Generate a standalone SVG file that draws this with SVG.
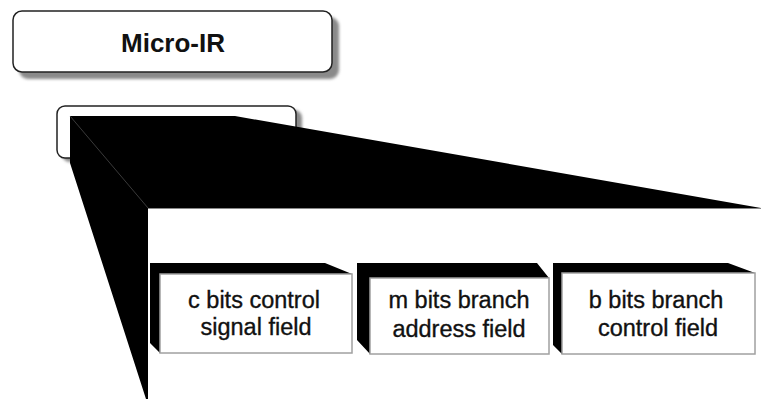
<svg xmlns="http://www.w3.org/2000/svg" width="761" height="399" viewBox="0 0 761 399">
<defs>
<filter id="blur" x="-10%" y="-10%" width="120%" height="130%"><feGaussianBlur stdDeviation="1.5"/></filter>
<style>
.box{fill:#fff;stroke:#222;stroke-width:1.5}
.shadow{fill:#8a8a8a;filter:url(#blur)}
.bevel{fill:#000}
.face{fill:#fff;stroke:#a0a0a0;stroke-width:1.5}
.lbl{font-family:"Liberation Sans",Arial,sans-serif;font-size:23.5px;fill:#111;stroke:#111;stroke-width:0.35;text-anchor:middle}
.title{font-family:"Liberation Sans",Arial,sans-serif;font-size:26px;font-weight:bold;fill:#111;text-anchor:middle}
</style>
</defs>
<rect width="761" height="399" fill="#fff"/>
<g id="micro-ir">
<rect class="shadow" x="19" y="17" width="320" height="62" rx="9"/>
<rect class="box" x="13" y="11" width="319" height="61" rx="9"/>
<text class="title" x="173" y="52">Micro-IR</text>
</g>
<g id="register">
<rect class="shadow" x="62" y="110" width="240" height="52" rx="8"/>
<rect class="box" x="57" y="106" width="239" height="52" rx="8"/>
</g>
<g id="projection">
<polygon class="bevel" points="70,116 235,116 761,208 148,208 148,399 146,399 70,163"/>
<line x1="70" y1="116" x2="148" y2="208" stroke="#3a3a3a" stroke-width="1"/>
<line x1="148" y1="208.5" x2="761" y2="208.5" stroke="#888" stroke-width="1"/>
</g>
<g id="field-c">
<polygon class="bevel" points="150,263 325,263 352,274 160,274 160,353 150,343"/>
<rect class="face" x="160" y="274" width="192" height="79"/>
<text class="lbl" x="254" y="308">c bits control</text>
<text class="lbl" x="256" y="335">signal field</text>
</g>
<g id="field-m">
<polygon class="bevel" points="357,263 537,263 549,278 370,278 370,354 357,340"/>
<rect class="face" x="370" y="278" width="179" height="76"/>
<text class="lbl" x="459" y="308">m bits branch</text>
<text class="lbl" x="459" y="337">address field</text>
</g>
<g id="field-b">
<polygon class="bevel" points="553,263 728,263 755,273 562,273 562,354 553,345"/>
<rect class="face" x="562" y="273" width="193" height="81"/>
<text class="lbl" x="656" y="308">b bits branch</text>
<text class="lbl" x="658" y="336">control field</text>
</g>
</svg>
